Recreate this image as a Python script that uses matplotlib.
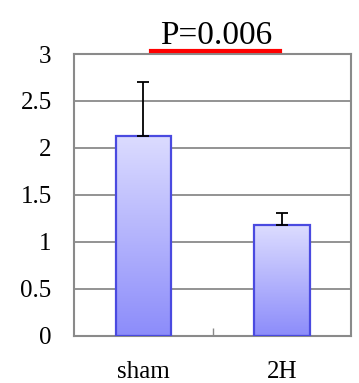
import numpy as np
import matplotlib.pyplot as plt
from matplotlib.colors import LinearSegmentedColormap
from matplotlib.lines import Line2D

groups = ['sham', '2H']
means = [2.13, 1.18]
errs = [0.57, 0.13]
yticks = [0, 0.5, 1, 1.5, 2, 2.5, 3]
ytick_labels = ['0', '0.5', '1', '1.5', '2', '2.5', '3']
p_text = 'P=0.006'

plt.rcParams['font.family'] = ['Liberation Serif', 'DejaVu Serif']

fig = plt.figure(figsize=(3.59, 3.83), dpi=100)
ax = fig.add_axes([0.206, 0.123, 0.772, 0.736])

x = np.arange(len(groups))
width = 0.4
grad = LinearSegmentedColormap.from_list('bar', ['#8c8cfa', '#dcdcff'])

ax.set_xlim(-0.5, 1.5)
ax.set_ylim(0, 3)
for y in yticks[1:-1]:
    ax.axhline(y, color='#8a8a8a', lw=1.3, zorder=0)

bars = ax.bar(x, means, width, facecolor='none', edgecolor='#4a4ae0', lw=1.6, zorder=3)
for b in bars:
    x0, y0 = b.get_x(), b.get_y()
    im = ax.imshow(np.linspace(0, 1, 256).reshape(-1, 1), cmap=grad, origin='lower',
                   extent=[x0, x0 + b.get_width(), y0, y0 + b.get_height()],
                   aspect='auto', zorder=2)
    im.set_clip_path(b)

ax.errorbar(x, means, yerr=[np.zeros(len(errs)), errs], fmt='none', ecolor='black',
            elinewidth=1.3, capsize=4, capthick=1.3, zorder=4)

ax.set_yticks(yticks)
ax.set_yticklabels(ytick_labels, fontsize=18)
ax.tick_params(axis='y', length=0, pad=16)
ax.set_xticks([0.5])
ax.set_xticklabels([''])
ax.tick_params(axis='x', direction='in', length=6, width=1, color='#8a8a8a')
for i, g in enumerate(groups):
    ax.text(x[i], -0.38, g, ha='center', va='center', fontsize=18)

for s in ax.spines.values():
    s.set_color('#8a8a8a')
    s.set_linewidth(1.5)

title = ax.set_title(p_text, fontsize=24, pad=7, x=0.515)

# red underline under the p-value
fig.canvas.draw()
bb = title.get_window_extent().transformed(fig.transFigure.inverted())
fig.add_artist(Line2D([bb.x0 - 0.028, bb.x1 + 0.02], [bb.y0 + 0.002] * 2,
                      color='red', lw=3, transform=fig.transFigure))

fig.savefig('out.png', dpi=100)
